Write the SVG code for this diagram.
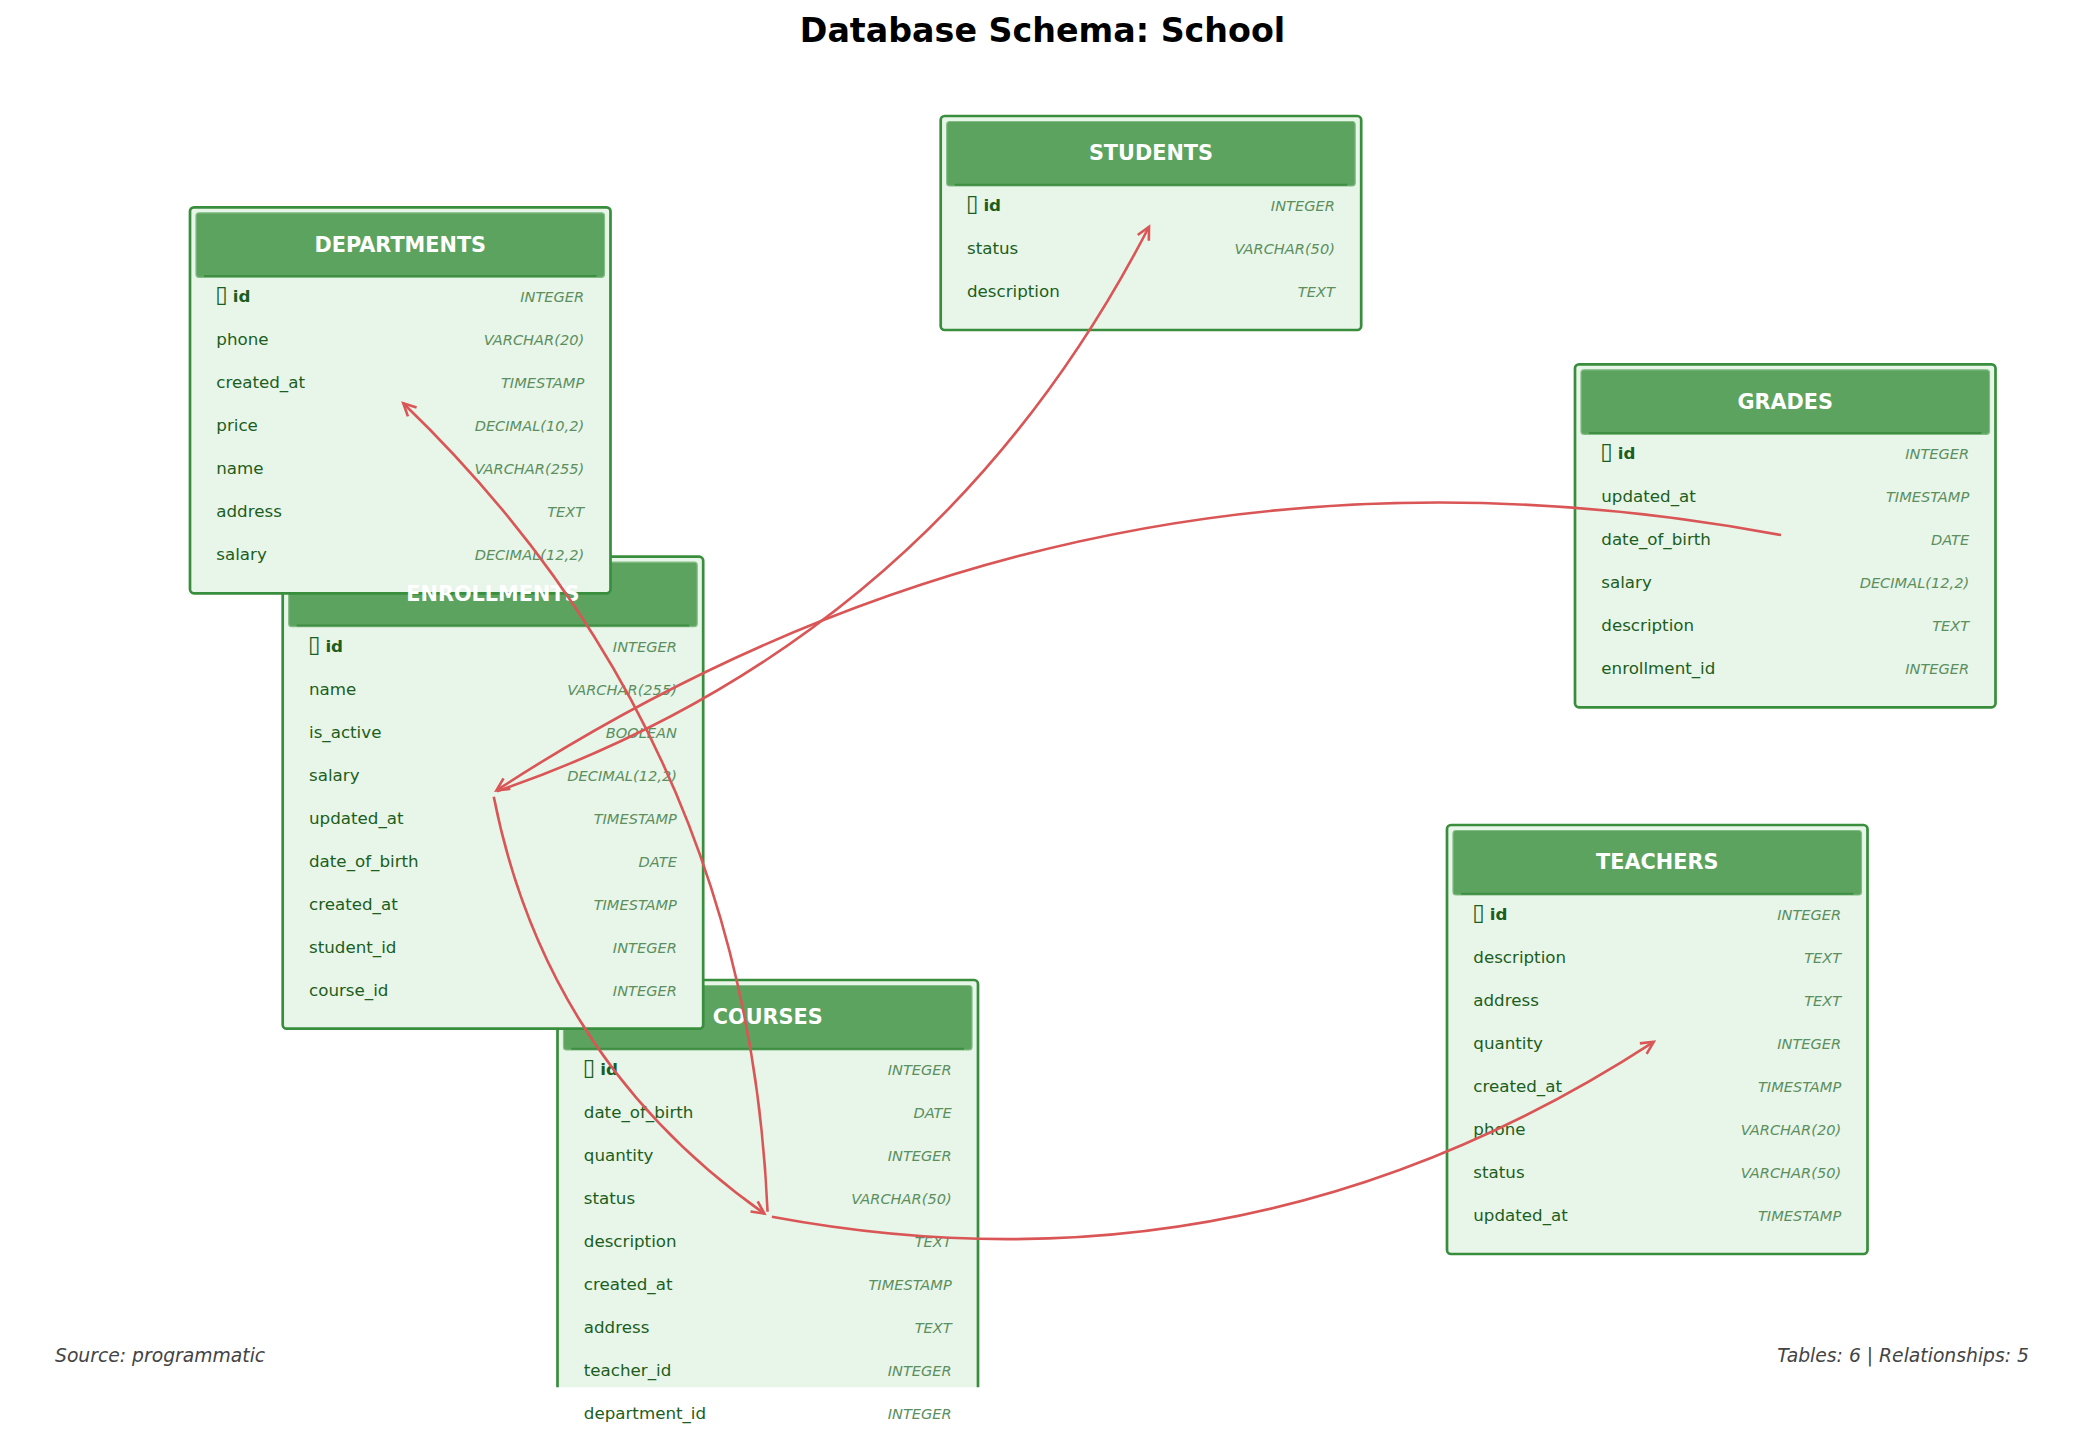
<svg xmlns="http://www.w3.org/2000/svg" width="2085" height="1437" viewBox="0 0 2085 1437">
<style>
.box{fill:#e8f5e9;stroke:#388e3c;stroke-width:2.7}
.hdr{fill:#5ba35f;stroke:#82bd84;stroke-width:1.2}
.hline{stroke:#3f8e43;stroke-width:2}
.ttl{font-family:"DejaVu Sans","Liberation Sans",sans-serif;font-weight:bold;font-size:20.8px;fill:#ffffff;text-anchor:middle}
.fld{font-family:"DejaVu Sans","Liberation Sans",sans-serif;font-size:16.7px;fill:#1b5e20}
.pk{font-weight:bold}
.tofu{font-size:23px;font-weight:normal}
.typ{font-family:"DejaVu Sans","Liberation Sans",sans-serif;font-style:italic;font-size:14.6px;fill:#5b8f5e;text-anchor:end}
.rel{fill:none;stroke:#da5656;stroke-width:2.6;marker-end:url(#arr)}
.foot{font-family:"DejaVu Sans","Liberation Sans",sans-serif;font-style:italic;font-size:18.75px;fill:#444444}
.main{font-family:"DejaVu Sans","Liberation Sans",sans-serif;font-weight:bold;font-size:33.3px;fill:#000000;text-anchor:middle}
</style>
<defs>
<clipPath id="axclip"><rect x="0" y="0" width="2085" height="1387.3"/></clipPath>
<marker id="arr" markerUnits="userSpaceOnUse" markerWidth="30" markerHeight="30" viewBox="-15 -15 30 30" refX="0" refY="0" orient="auto" overflow="visible">
<path d="M-12.5 -6.25 L0 0 L-12.5 6.25" fill="none" stroke="#da5656" stroke-width="2.6" stroke-linejoin="miter"/>
</marker>
</defs>
<rect x="0" y="0" width="2085" height="1437" fill="#ffffff"/>
<text class="main" x="1042.5" y="41.7">Database Schema: School</text>

<!-- node shapes -->
<g id="node-students">
<rect class="box" x="940.7" y="116" width="420.5" height="214" rx="4"/>
<rect class="hdr" x="946.7" y="121.5" width="408.5" height="64.5" rx="3"/>
<line class="hline" x1="954.7" y1="184.7" x2="1347.2" y2="184.7"/>
</g>
<g id="node-grades">
<rect class="box" x="1575" y="364.3" width="420.5" height="343" rx="4"/>
<rect class="hdr" x="1581" y="369.8" width="408.5" height="64.5" rx="3"/>
<line class="hline" x1="1589" y1="433" x2="1981.5" y2="433"/>
</g>
<g id="node-teachers">
<rect class="box" x="1447" y="825" width="420.5" height="429" rx="4"/>
<rect class="hdr" x="1453" y="830.5" width="408.5" height="64.5" rx="3"/>
<line class="hline" x1="1461" y1="893.7" x2="1853.5" y2="893.7"/>
</g>
<g id="node-courses" clip-path="url(#axclip)">
<rect class="box" x="557.5" y="980" width="420.5" height="472" rx="4"/>
<rect class="hdr" x="563.5" y="985.5" width="408.5" height="64.5" rx="3"/>
<line class="hline" x1="571.5" y1="1048.7" x2="964" y2="1048.7"/>
</g>
<g id="node-enrollments">
<rect class="box" x="282.7" y="556.7" width="420.5" height="472" rx="4"/>
<rect class="hdr" x="288.7" y="562.2" width="408.5" height="64.5" rx="3"/>
<line class="hline" x1="296.7" y1="625.4" x2="689.2" y2="625.4"/>
</g>
<g id="node-departments">
<rect class="box" x="190" y="207.3" width="420.5" height="386" rx="4"/>
<rect class="hdr" x="196" y="212.8" width="408.5" height="64.5" rx="3"/>
<line class="hline" x1="204" y1="276" x2="596.5" y2="276"/>
</g>

<!-- node texts -->
<g id="node-students-text">
<text class="ttl" x="1150.95" y="160.4">STUDENTS</text>
<text class="fld pk" x="966" y="211"><tspan class="tofu">▯ </tspan><tspan x="983.4">id</tspan></text><text class="typ" x="1334.9" y="211">INTEGER</text>
<text class="fld" x="967" y="254">status</text><text class="typ" x="1334.9" y="254">VARCHAR(50)</text>
<text class="fld" x="967" y="297">description</text><text class="typ" x="1334.9" y="297">TEXT</text>
</g>
<g id="node-grades-text">
<text class="ttl" x="1785.25" y="408.7">GRADES</text>
<text class="fld pk" x="1600.3" y="459.3"><tspan class="tofu">▯ </tspan><tspan x="1617.7">id</tspan></text><text class="typ" x="1969.2" y="459.3">INTEGER</text>
<text class="fld" x="1601.3" y="502.3">updated_at</text><text class="typ" x="1969.2" y="502.3">TIMESTAMP</text>
<text class="fld" x="1601.3" y="545.3">date_of_birth</text><text class="typ" x="1969.2" y="545.3">DATE</text>
<text class="fld" x="1601.3" y="588.3">salary</text><text class="typ" x="1969.2" y="588.3">DECIMAL(12,2)</text>
<text class="fld" x="1601.3" y="631.3">description</text><text class="typ" x="1969.2" y="631.3">TEXT</text>
<text class="fld" x="1601.3" y="674.3">enrollment_id</text><text class="typ" x="1969.2" y="674.3">INTEGER</text>
</g>
<g id="node-teachers-text">
<text class="ttl" x="1657.25" y="869.4">TEACHERS</text>
<text class="fld pk" x="1472.3" y="920"><tspan class="tofu">▯ </tspan><tspan x="1489.7">id</tspan></text><text class="typ" x="1841.2" y="920">INTEGER</text>
<text class="fld" x="1473.3" y="963">description</text><text class="typ" x="1841.2" y="963">TEXT</text>
<text class="fld" x="1473.3" y="1006">address</text><text class="typ" x="1841.2" y="1006">TEXT</text>
<text class="fld" x="1473.3" y="1049">quantity</text><text class="typ" x="1841.2" y="1049">INTEGER</text>
<text class="fld" x="1473.3" y="1092">created_at</text><text class="typ" x="1841.2" y="1092">TIMESTAMP</text>
<text class="fld" x="1473.3" y="1135">phone</text><text class="typ" x="1841.2" y="1135">VARCHAR(20)</text>
<text class="fld" x="1473.3" y="1178">status</text><text class="typ" x="1841.2" y="1178">VARCHAR(50)</text>
<text class="fld" x="1473.3" y="1221">updated_at</text><text class="typ" x="1841.2" y="1221">TIMESTAMP</text>
</g>
<g id="node-courses-text">
<text class="ttl" x="767.75" y="1024.4">COURSES</text>
<text class="fld pk" x="582.8" y="1075"><tspan class="tofu">▯ </tspan><tspan x="600.2">id</tspan></text><text class="typ" x="951.7" y="1075">INTEGER</text>
<text class="fld" x="583.8" y="1118">date_of_birth</text><text class="typ" x="951.7" y="1118">DATE</text>
<text class="fld" x="583.8" y="1161">quantity</text><text class="typ" x="951.7" y="1161">INTEGER</text>
<text class="fld" x="583.8" y="1204">status</text><text class="typ" x="951.7" y="1204">VARCHAR(50)</text>
<text class="fld" x="583.8" y="1247">description</text><text class="typ" x="951.7" y="1247">TEXT</text>
<text class="fld" x="583.8" y="1290">created_at</text><text class="typ" x="951.7" y="1290">TIMESTAMP</text>
<text class="fld" x="583.8" y="1333">address</text><text class="typ" x="951.7" y="1333">TEXT</text>
<text class="fld" x="583.8" y="1376">teacher_id</text><text class="typ" x="951.7" y="1376">INTEGER</text>
<text class="fld" x="583.8" y="1419">department_id</text><text class="typ" x="951.7" y="1419">INTEGER</text>
</g>
<g id="node-enrollments-text">
<text class="ttl" x="492.95" y="601.1">ENROLLMENTS</text>
<text class="fld pk" x="308" y="651.7"><tspan class="tofu">▯ </tspan><tspan x="325.4">id</tspan></text><text class="typ" x="676.9" y="651.7">INTEGER</text>
<text class="fld" x="309" y="694.7">name</text><text class="typ" x="676.9" y="694.7">VARCHAR(255)</text>
<text class="fld" x="309" y="737.7">is_active</text><text class="typ" x="676.9" y="737.7">BOOLEAN</text>
<text class="fld" x="309" y="780.7">salary</text><text class="typ" x="676.9" y="780.7">DECIMAL(12,2)</text>
<text class="fld" x="309" y="823.7">updated_at</text><text class="typ" x="676.9" y="823.7">TIMESTAMP</text>
<text class="fld" x="309" y="866.7">date_of_birth</text><text class="typ" x="676.9" y="866.7">DATE</text>
<text class="fld" x="309" y="909.7">created_at</text><text class="typ" x="676.9" y="909.7">TIMESTAMP</text>
<text class="fld" x="309" y="952.7">student_id</text><text class="typ" x="676.9" y="952.7">INTEGER</text>
<text class="fld" x="309" y="995.7">course_id</text><text class="typ" x="676.9" y="995.7">INTEGER</text>
</g>
<g id="node-departments-text">
<text class="ttl" x="400.25" y="251.7">DEPARTMENTS</text>
<text class="fld pk" x="215.3" y="302.3"><tspan class="tofu">▯ </tspan><tspan x="232.7">id</tspan></text><text class="typ" x="584.2" y="302.3">INTEGER</text>
<text class="fld" x="216.3" y="345.3">phone</text><text class="typ" x="584.2" y="345.3">VARCHAR(20)</text>
<text class="fld" x="216.3" y="388.3">created_at</text><text class="typ" x="584.2" y="388.3">TIMESTAMP</text>
<text class="fld" x="216.3" y="431.3">price</text><text class="typ" x="584.2" y="431.3">DECIMAL(10,2)</text>
<text class="fld" x="216.3" y="474.3">name</text><text class="typ" x="584.2" y="474.3">VARCHAR(255)</text>
<text class="fld" x="216.3" y="517.3">address</text><text class="typ" x="584.2" y="517.3">TEXT</text>
<text class="fld" x="216.3" y="560.3">salary</text><text class="typ" x="584.2" y="560.3">DECIMAL(12,2)</text>
</g>

<!-- connectors -->
<g id="connectors">
<path class="rel" d="M767.57 1211.8 Q747.14 734.65 403.27 403.21"/>
<path class="rel" d="M496.92 791.33 Q935.89 639.45 1149.02 226.73"/>
<path class="rel" d="M1781.12 535.03 Q1087.72 405.79 496.47 790.41"/>
<path class="rel" d="M493.76 796.82 Q545.69 1059.31 764.32 1213.58"/>
<path class="rel" d="M771.88 1216.77 Q1247.8 1305.65 1653.73 1041.79"/>
</g>

<text class="foot" x="55" y="1361.7">Source: programmatic</text>
<text class="foot" x="2029" y="1361.7" text-anchor="end">Tables: 6 | Relationships: 5</text>
</svg>
